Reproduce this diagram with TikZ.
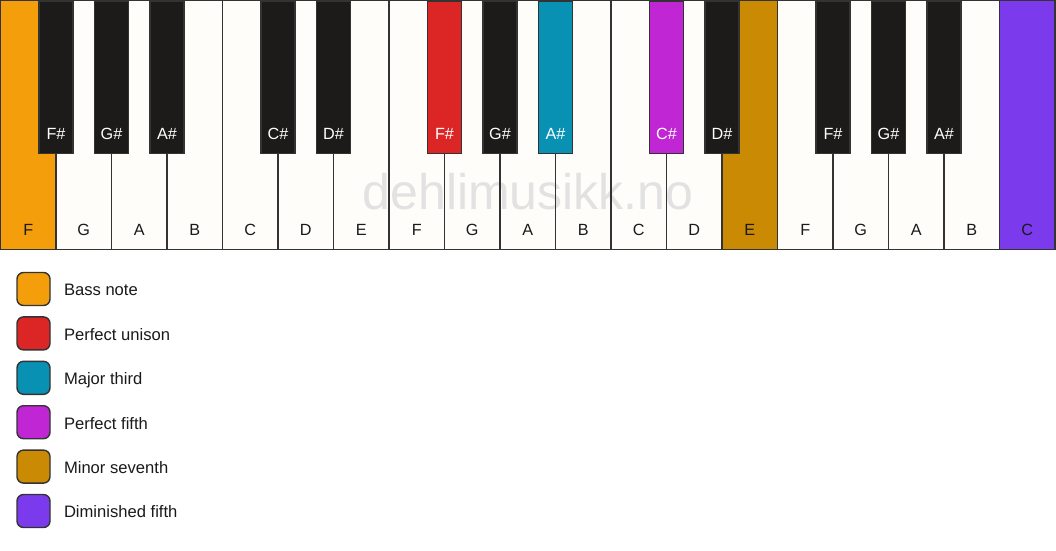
\documentclass[tikz,border=0pt]{standalone}
\usepackage{fontspec}
\setmainfont{Liberation Sans}
\definecolor{wkfill}{HTML}{FFFDF9}
\definecolor{bkfill}{HTML}{1C1B19}
\definecolor{edge}{HTML}{333333}
\definecolor{ink}{HTML}{1A1A1A}
\definecolor{cbass}{HTML}{F59E0B}
\definecolor{cunison}{HTML}{DC2626}
\definecolor{cthird}{HTML}{0891B2}
\definecolor{cfifth}{HTML}{C026D3}
\definecolor{cseventh}{HTML}{CA8A04}
\definecolor{cdim}{HTML}{7C3AED}
\definecolor{wmark}{HTML}{E2E2E2}
\tikzset{
  wkey/.style={rectangle, inner sep=0pt, minimum width=55.5pt, minimum height=249pt},
  bkey/.style={rectangle, draw=edge, line width=1.3pt, inner sep=0pt, minimum width=34pt, minimum height=152.5pt, anchor=north},
  wlabel/.style={inner sep=0pt, anchor=base, text=ink, font=\fontsize{16.2}{19}\selectfont},
  blabel/.style={inner sep=0pt, anchor=base, text=white, font=\fontsize{16.2}{19}\selectfont},
  legbox/.style={rectangle, rounded corners=6.5pt, draw=edge, line width=1.4pt, inner sep=0pt, minimum width=33pt, minimum height=33pt},
  legtext/.style={inner sep=0pt, anchor=base west, text=ink, font=\fontsize{16.6}{20}\selectfont},
}
\begin{document}
\begin{tikzpicture}[x=1pt,y=-1pt]
\useasboundingbox (0,0) rectangle (1056,550);
\fill[white] (0,0) rectangle (1056,550);
% white key fills
\foreach \n/\c [count=\i from 0] in {F/cbass,G/wkfill,A/wkfill,B/wkfill,C/wkfill,D/wkfill,E/wkfill,F/wkfill,G/wkfill,A/wkfill,B/wkfill,C/wkfill,D/wkfill,E/cseventh,F/wkfill,G/wkfill,A/wkfill,B/wkfill,C/cdim}{
  \node[wkey, fill=\c] (wk\i) at ({28.25+55.5*\i},125) {};
}
% watermark
\node[inner sep=0pt, anchor=base, text=wmark, font=\fontsize{50}{60}\selectfont] (wm) at (528,209) {dehlimusikk.no};
% white key borders and labels
\foreach \n [count=\i from 0] in {F,G,A,B,C,D,E,F,G,A,B,C,D,E,F,G,A,B,C}{
  \draw[edge, line width=1.5pt] (wk\i.north west) rectangle (wk\i.south east);
  \node[wlabel] (wl\i) at ({28.25+55.5*\i},235.7) {\n};
}
% black keys
\foreach \b/\n/\c [count=\j] in {1/F/bkfill,2/G/bkfill,3/A/bkfill,5/C/bkfill,6/D/bkfill,8/F/cunison,9/G/bkfill,10/A/cthird,12/C/cfifth,13/D/bkfill,15/F/bkfill,16/G/bkfill,17/A/bkfill}{
  \node[bkey, fill=\c] (bk\j) at ({0.5+55.5*\b},0.5) {};
  \node[blabel] (bl\j) at ({0.5+55.5*\b},139) {\n\#};
}
% legend
\foreach \c/\t [count=\k from 0] in {cbass/Bass note,cunison/Perfect unison,cthird/Major third,cfifth/Perfect fifth,cseventh/Minor seventh,cdim/Diminished fifth}{
  \node[legbox, fill=\c] (lb\k) at (33.5,{289+44.4*\k}) {};
  \node[legtext] (lt\k) at (63.8,{295.8+44.4*\k}) {\t};
}
\end{tikzpicture}
\end{document}
